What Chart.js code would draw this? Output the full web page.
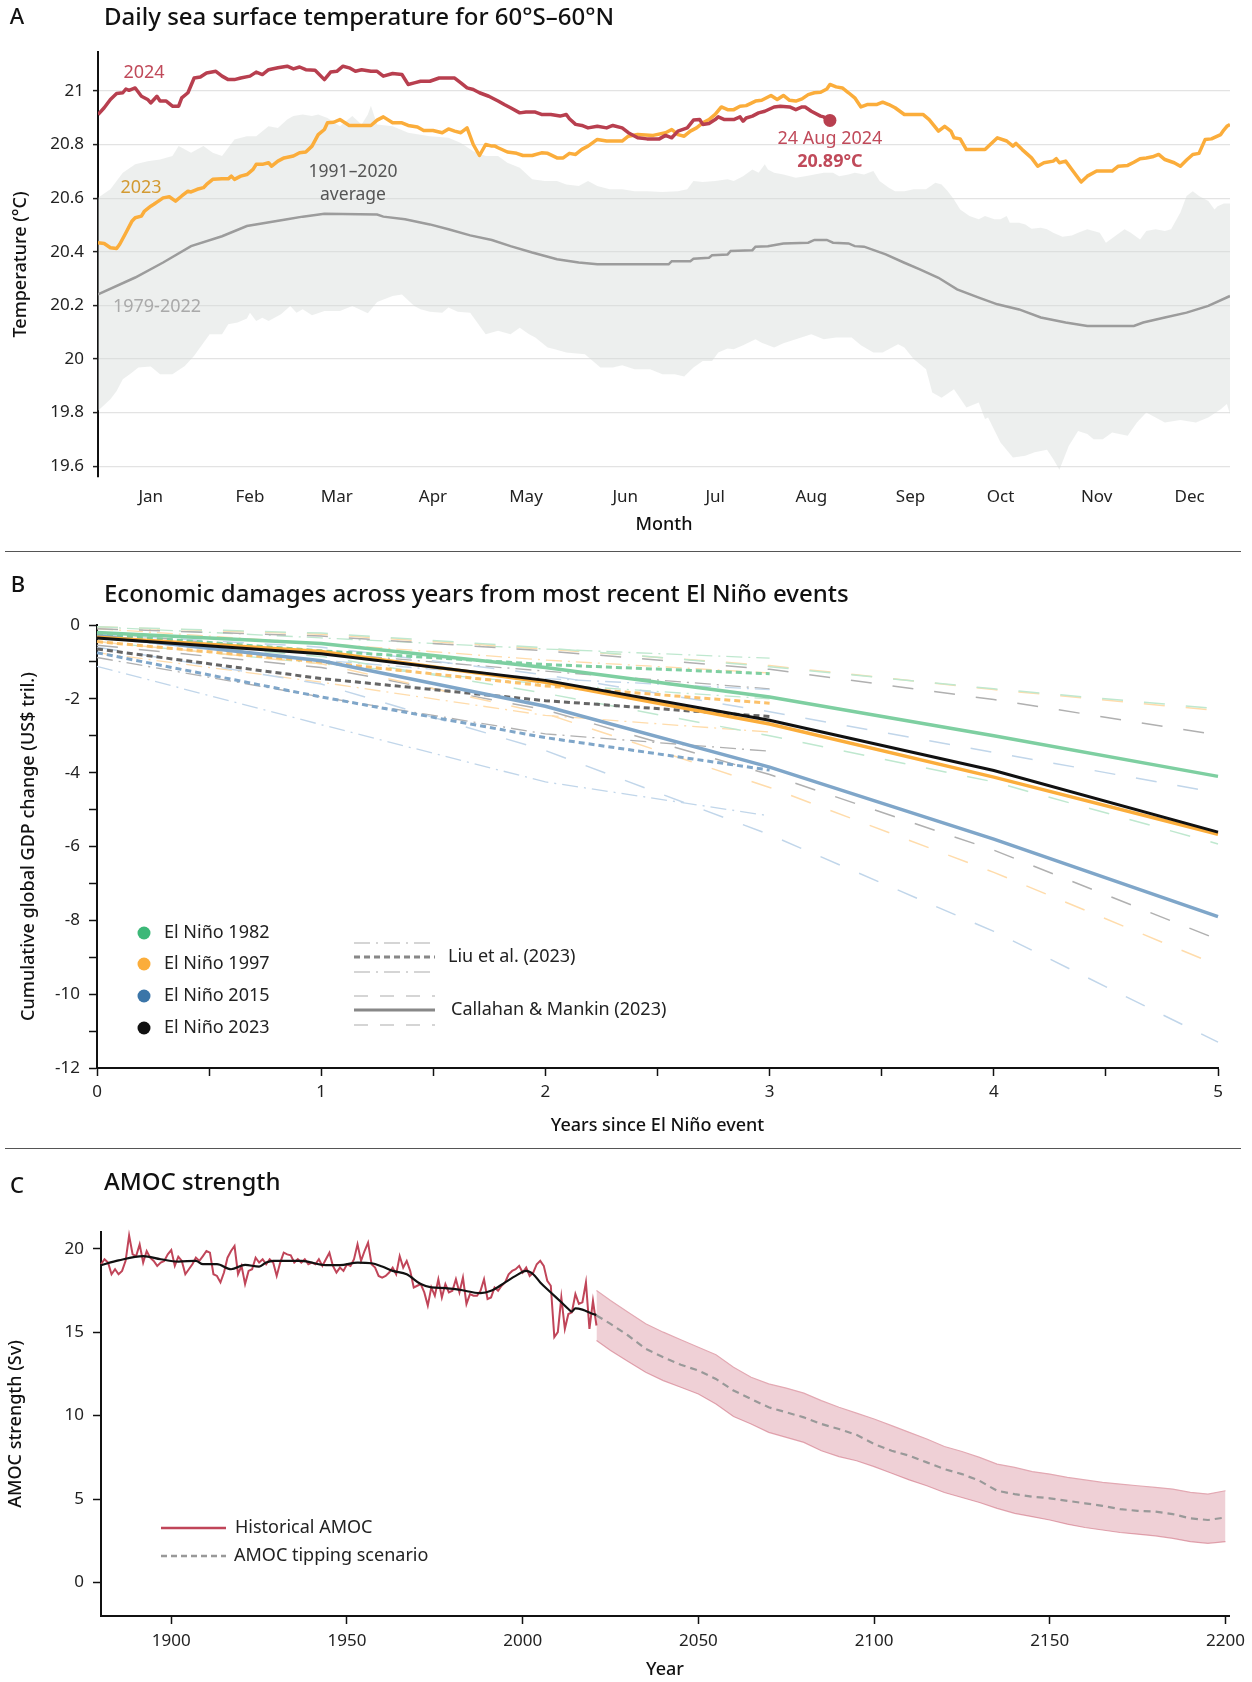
<!DOCTYPE html>
<html>
<head>
<meta charset="utf-8">
<script src="https://cdn.jsdelivr.net/npm/chart.js@4.4.1/dist/chart.umd.min.js"></script>
<style>
html,body{margin:0;padding:0;background:#fff;}
body{width:1252px;height:1682px;position:relative;overflow:hidden;}
canvas{position:absolute;left:0;}
.sep{position:absolute;left:5px;width:1236px;height:0;border-top:1px solid #555;}
</style>
</head>
<body>
<canvas id="cA" width="1252" height="551" style="top:0px"></canvas>
<canvas id="cB" width="1252" height="597" style="top:551px"></canvas>
<canvas id="cC" width="1252" height="534" style="top:1148px"></canvas>
<div class="sep" style="top:551px"></div>
<div class="sep" style="top:1148px"></div>
<script>
// ---------------- Panel A data ----------------
const monthLabels = ['Jan','Feb','Mar','Apr','May','Jun','Jul','Aug','Sep','Oct','Nov','Dec'];
const monthTickDays = [18,50,78,109,139,171,200,231,263,292,323,353];
const tempTicks = [19.6,19.8,20,20.2,20.4,20.6,20.8,21];

const sst2024Days = [1,3,5,7,9,10,11,13,15,17,18,20,21,23,25,27,28,30,32,34,36,39,41,43,45,47,50,52,54,56,59,62,64,66,68,71,74,76,78,80,82,84,86,89,91,93,96,99,101,103,105,108,111,113,116,118,120,122,124,127,130,132,134,137,139,142,144,147,150,152,153,155,157,159,162,165,167,170,172,175,178,182,184,186,188,191,193,195,196,198,200,201,203,206,208,209,210,212,214,216,219,221,224,226,228,229,231,234,235,236,237];
const sst2024Values = [20.912,20.937,20.968,20.990,20.993,21.007,21.002,21.011,20.980,20.968,20.955,20.980,20.962,20.962,20.943,20.943,20.974,20.993,21.048,21.052,21.067,21.073,21.055,21.042,21.042,21.048,21.055,21.070,21.061,21.079,21.086,21.092,21.082,21.089,21.079,21.077,21.042,21.070,21.073,21.092,21.086,21.073,21.079,21.073,21.073,21.055,21.065,21.061,21.024,21.030,21.036,21.036,21.048,21.048,21.048,21.030,21.011,21.005,20.993,20.980,20.962,20.949,20.937,20.918,20.921,20.921,20.912,20.912,20.906,20.912,20.896,20.875,20.871,20.862,20.868,20.862,20.871,20.862,20.844,20.825,20.821,20.821,20.834,20.825,20.850,20.862,20.891,20.893,20.875,20.878,20.893,20.903,20.893,20.893,20.903,20.887,20.899,20.906,20.918,20.924,20.940,20.943,20.940,20.930,20.940,20.940,20.924,20.906,20.903,20.893,20.891];

const sst2023Days = [1,3,5,7,8,10,12,13,15,16,18,19,20,22,24,26,28,30,31,33,35,36,38,41,43,44,45,47,49,51,52,54,56,57,59,61,64,66,68,70,72,74,75,77,79,82,84,87,89,91,93,96,99,101,104,106,109,112,114,116,118,120,122,124,126,128,129,130,133,136,138,141,144,146,149,151,153,155,157,159,162,165,167,170,172,175,180,184,186,188,190,192,194,196,198,200,202,204,206,208,210,213,215,218,220,222,224,226,228,230,232,234,236,237,239,241,243,245,247,249,252,254,256,258,261,264,267,269,272,274,276,277,279,281,283,287,291,294,296,297,299,302,304,306,309,310,311,313,315,318,320,323,328,330,333,335,337,339,341,343,345,348,350,352,354,356,358,360,363,364,365,366];
const sst2023Values = [20.434,20.431,20.415,20.412,20.428,20.471,20.515,20.527,20.533,20.552,20.570,20.577,20.585,20.601,20.605,20.589,20.608,20.626,20.623,20.633,20.639,20.651,20.670,20.672,20.672,20.682,20.670,20.682,20.688,20.707,20.726,20.726,20.732,20.719,20.738,20.750,20.757,20.769,20.772,20.794,20.837,20.856,20.881,20.883,20.893,20.871,20.871,20.871,20.871,20.891,20.903,20.881,20.881,20.871,20.865,20.852,20.852,20.844,20.858,20.850,20.844,20.862,20.800,20.759,20.800,20.794,20.794,20.788,20.772,20.767,20.759,20.759,20.769,20.767,20.750,20.750,20.767,20.763,20.782,20.794,20.819,20.813,20.813,20.813,20.831,20.837,20.834,20.844,20.856,20.837,20.831,20.850,20.862,20.881,20.893,20.912,20.940,20.930,20.930,20.943,20.945,20.962,20.965,20.983,20.968,20.983,20.965,20.962,20.970,20.986,20.993,20.995,21.007,21.024,21.015,21.011,20.993,20.974,20.940,20.949,20.949,20.958,20.949,20.937,20.912,20.912,20.912,20.893,20.850,20.868,20.850,20.825,20.821,20.781,20.781,20.781,20.825,20.813,20.794,20.804,20.781,20.750,20.719,20.732,20.738,20.747,20.732,20.738,20.707,20.660,20.682,20.701,20.701,20.719,20.722,20.734,20.747,20.750,20.754,20.763,20.744,20.732,20.719,20.742,20.763,20.767,20.819,20.821,20.837,20.854,20.868,20.875];

const avgDays = [1,13,22,31,41,49,62,67,74,91,93,100,108,114,121,128,134,141,149,156,162,176,185,186,192,193,198,199,204,205,212,213,217,222,230,232,236,238,243,245,248,255,261,266,272,278,285,291,298,305,313,320,335,338,345,352,359,366];
const avgValues = [20.241,20.304,20.36,20.421,20.458,20.496,20.521,20.531,20.542,20.539,20.531,20.521,20.502,20.484,20.461,20.444,20.421,20.397,20.372,20.360,20.353,20.353,20.353,20.365,20.365,20.374,20.378,20.387,20.390,20.403,20.406,20.419,20.421,20.431,20.434,20.444,20.444,20.434,20.431,20.421,20.419,20.390,20.359,20.334,20.303,20.26,20.229,20.204,20.185,20.155,20.136,20.123,20.123,20.136,20.155,20.173,20.198,20.235];

const rangeMaxDays = [1,5,9,13,17,21,25,27,31,35,38,41,45,49,52,56,59,62,64,67,70,72,75,79,83,86,88,89,91,96,101,108,114,118,122,126,130,133,137,141,145,149,152,156,159,162,166,170,174,178,183,188,191,193,196,200,204,206,209,212,214,216,217,219,222,226,229,232,235,238,240,243,245,248,251,253,256,258,261,264,268,271,273,275,277,279,282,285,287,290,292,294,295,298,300,302,305,307,309,312,315,317,320,324,326,329,332,334,337,339,342,345,347,350,352,354,356,359,361,362,364,366];
const rangeMaxValues = [20.601,20.633,20.695,20.726,20.738,20.744,20.757,20.794,20.769,20.794,20.769,20.757,20.819,20.831,20.831,20.868,20.862,20.893,20.906,20.912,20.906,20.912,20.899,20.868,20.906,20.875,20.912,20.945,20.875,20.868,20.844,20.831,20.825,20.806,20.775,20.757,20.757,20.732,20.713,20.670,20.664,20.664,20.651,20.645,20.664,20.645,20.633,20.633,20.626,20.626,20.623,20.626,20.633,20.664,20.660,20.664,20.670,20.664,20.682,20.707,20.695,20.726,20.707,20.695,20.688,20.676,20.682,20.688,20.695,20.695,20.682,20.688,20.695,20.688,20.701,20.664,20.639,20.626,20.626,20.633,20.633,20.657,20.651,20.626,20.595,20.558,20.533,20.521,20.533,20.521,20.521,20.533,20.508,20.508,20.502,20.486,20.490,20.484,20.471,20.456,20.461,20.471,20.484,20.471,20.434,20.459,20.484,20.471,20.446,20.477,20.484,20.477,20.484,20.546,20.608,20.626,20.608,20.589,20.558,20.570,20.580,20.580];

const rangeMinDays = [1,5,7,9,12,14,18,21,25,29,32,37,41,43,46,49,50,52,54,56,60,63,65,67,70,74,79,83,88,91,96,99,103,105,108,112,114,117,121,126,130,134,137,140,142,146,148,152,158,163,167,170,174,179,183,187,190,193,196,199,201,204,206,209,213,215,219,222,226,231,235,239,244,247,251,254,257,259,261,264,268,270,273,277,281,285,287,288,292,296,300,303,307,309,311,314,317,320,322,325,328,333,336,339,342,345,350,355,359,363,365,366];
const rangeMinValues = [19.807,19.850,19.881,19.925,19.950,19.968,19.972,19.943,19.943,19.974,20.012,20.092,20.092,20.130,20.136,20.151,20.173,20.142,20.154,20.142,20.167,20.198,20.173,20.186,20.163,20.179,20.179,20.198,20.171,20.213,20.235,20.241,20.198,20.186,20.176,20.173,20.192,20.176,20.173,20.092,20.105,20.092,20.117,20.092,20.080,20.043,20.037,20.024,20.018,19.968,19.968,19.977,19.962,19.962,19.943,19.943,19.935,19.968,19.993,19.993,20.024,20.039,20.036,20.051,20.074,20.061,20.043,20.059,20.074,20.092,20.074,20.080,20.080,20.051,20.024,20.024,20.043,20.055,20.043,20.0,19.962,19.875,19.856,19.887,19.819,19.838,19.776,19.782,19.689,19.633,19.639,19.652,19.662,19.627,19.587,19.676,19.732,19.720,19.701,19.701,19.726,19.714,19.763,19.801,19.782,19.763,19.773,19.763,19.782,19.813,19.832,19.794];

const latestDay = [237];
const latestValue = [20.89];

// ---------------- Panel B data ----------------
const bYears = [0,1,2,3,4,5];
const liuYears = [0,1,2,3];
const bTicksX = [0,0.5,1,1.5,2,2.5,3,3.5,4,4.5,5];
const bTicksY = [-12,-11,-10,-9,-8,-7,-6,-5,-4,-3,-2,-1,0];
const ninoLabels = ['El Niño 1982','El Niño 1997','El Niño 2015','El Niño 2023'];

const cm1982 = [-0.2,-0.5,-1.15,-1.95,-3.0,-4.1];
const cm1997 = [-0.33,-0.72,-1.55,-2.68,-4.12,-5.67];
const cm2015 = [-0.29,-0.97,-2.2,-3.85,-5.8,-7.9];
const cm2023 = [-0.35,-0.78,-1.5,-2.58,-3.94,-5.61];
const cmHi1982 = [-0.05,-0.22,-0.62,-1.13,-1.73,-2.27];
const cmHi1997 = [-0.05,-0.25,-0.65,-1.1,-1.75,-2.32];
const cmHi2015 = [-0.25,-0.6,-1.35,-2.35,-3.45,-4.55];
const cmHi2023 = [-0.1,-0.3,-0.7,-1.2,-2.02,-2.98];
const cmLo1982 = [-0.35,-0.85,-1.85,-3.0,-4.25,-5.93];
const cmLo1997 = [-0.45,-1.05,-2.4,-4.4,-6.7,-9.22];
const cmLo2015 = [-0.6,-1.6,-3.4,-5.68,-8.3,-11.3];
const cmLo2023 = [-0.55,-1.15,-2.3,-4.05,-6.1,-8.52];

const liu1982 = [-0.25,-0.7,-1.07,-1.32];
const liu1997 = [-0.45,-1.0,-1.65,-2.12];
const liu2015 = [-0.75,-1.95,-3.05,-3.93];
const liu2023 = [-0.65,-1.45,-2.05,-2.48];
const liuHi1982 = [-0.05,-0.35,-0.65,-0.9];
const liuHi1997 = [-0.1,-0.5,-0.95,-1.3];
const liuHi2015 = [-0.35,-0.95,-1.45,-1.75];
const liuHi2023 = [-0.2,-0.75,-1.25,-1.73];
const liuLo1982 = [-0.45,-1.05,-1.6,-2.0];
const liuLo1997 = [-0.75,-1.55,-2.45,-2.9];
const liuLo2015 = [-1.12,-2.7,-4.25,-5.17];
const liuLo2023 = [-0.88,-1.95,-2.95,-3.42];

// ---------------- Panel C data ----------------
const amocStartYear = 1880;
const amocHistorical = [19.07,19.37,19.17,18.47,18.77,18.47,18.67,19.27,20.79,19.66,19.56,20.26,19.17,19.86,19.46,19.27,18.97,19.17,19.27,19.66,
19.92,18.97,19.52,19.27,18.47,18.77,19.07,19.46,19.27,19.56,19.86,19.76,18.47,18.37,17.98,18.57,19.46,19.86,20.16,18.47,
18.97,17.88,18.67,18.77,19.46,19.17,19.37,19.07,19.37,19.17,18.37,19.17,19.76,19.66,19.60,19.17,19.37,19.17,19.37,19.07,
19.17,19.07,19.37,18.97,19.37,19.76,18.97,18.57,18.87,18.67,19.07,18.97,19.37,20.26,19.27,19.86,20.36,19.07,18.87,18.37,
18.27,18.37,18.57,18.87,18.47,19.56,18.87,19.27,18.67,17.68,17.78,17.88,17.38,16.59,17.68,17.18,18.17,17.08,17.88,17.38,
17.48,18.17,17.38,18.27,16.69,17.28,17.18,17.18,17.48,18.17,16.98,17.08,17.68,17.48,17.78,17.98,18.47,18.67,18.77,18.97,
18.57,18.87,18.37,18.57,19.07,19.27,18.97,18.08,17.78,14.70,15.00,17.08,15.20,16.09,16.19,17.28,16.69,16.79,17.98,15.20,
16.88,15.40];
const amocSmoothYears = [1880,1885,1892,1897,1902,1907,1909,1913,1917,1921,1925,1927,1929,1937,1944,1948,1953,1957,1960,1963,1967,1971,1974,1978,1982,1988,1991,1995,1998,2001,2003,2005,2008,2011,2013,2014,2015,2017,2020,2021];
const amocSmoothValues = [19.01,19.3,19.56,19.37,19.23,19.27,19.07,19.07,18.77,19.03,18.93,19.17,19.27,19.27,19.01,19.01,19.17,19.13,18.93,18.67,18.47,17.88,17.68,17.64,17.54,17.34,17.48,17.98,18.37,18.67,18.47,17.98,17.38,16.79,16.39,16.23,16.43,16.35,16.09,16.03];
const scenarioYears = [2021,2025,2030,2035,2040,2045,2050,2055,2060,2065,2070,2075,2080,2085,2090,2095,2100,2105,2110,2115,2120,2125,2130,2135,2140,2145,2150,2155,2160,2165,2170,2175,2180,2185,2190,2195,2200];
const scenarioMid = [16.0,15.5,14.8,14.0,13.5,13.05,12.7,12.2,11.5,11.0,10.5,10.2,9.9,9.5,9.2,8.85,8.3,7.9,7.6,7.2,6.8,6.5,6.1,5.5,5.3,5.15,5.05,4.9,4.75,4.6,4.4,4.3,4.25,4.1,3.85,3.75,3.9];
const scenarioHigh = [17.5,16.9,16.2,15.5,15.0,14.55,14.1,13.65,12.9,12.3,11.9,11.65,11.35,10.9,10.5,10.15,9.8,9.4,9.0,8.6,8.15,7.85,7.5,7.1,6.9,6.65,6.5,6.3,6.15,6.0,5.9,5.8,5.7,5.6,5.4,5.3,5.5];
const scenarioLow = [14.5,13.9,13.25,12.6,12.1,11.7,11.3,10.7,9.95,9.5,9.0,8.7,8.4,7.9,7.55,7.3,6.95,6.55,6.15,5.8,5.4,5.1,4.8,4.45,4.15,3.95,3.75,3.5,3.3,3.15,3.0,2.9,2.8,2.65,2.45,2.35,2.45];
const amocTicksX = [1900,1950,2000,2050,2100,2150,2200];
const amocTicksY = [0,5,10,15,20];

// ---------------- helpers ----------------
const FONT = "'Noto Sans', Roboto, sans-serif";
Chart.defaults.font.family = FONT;
Chart.defaults.color = '#222';
const TICK = { size: 17 };
const AXT = { size: 18, weight: '500' };
function pts(xs, ys) { return xs.map((x, i) => ({ x: x, y: ys[i] })); }
function fixedTicks(list) { return function (axis) { axis.ticks = list.map(v => ({ value: v })); }; }
function txt(ctx, s, x, y, o) {
  o = o || {};
  ctx.save();
  ctx.font = (o.weight || 400) + ' ' + (o.size || 18) + 'px ' + FONT;
  ctx.fillStyle = o.color || '#222';
  ctx.textAlign = o.align || 'left';
  ctx.textBaseline = 'middle';
  ctx.fillText(s, x, y);
  ctx.restore();
}
const baseOpts = { responsive: false, maintainAspectRatio: false, animation: false, devicePixelRatio: 1,
  plugins: { legend: { display: false }, tooltip: { enabled: false } }, events: [] };

// ---------------- Panel A ----------------
const RED = '#b83f4f', ORANGE = '#fbad3b';
new Chart(document.getElementById('cA'), {
  type: 'line',
  data: { datasets: [
    { data: pts(latestDay, latestValue), showLine: false, pointRadius: 6.5, pointBackgroundColor: RED, pointBorderWidth: 0, order: 0 },
    { data: pts(sst2024Days, sst2024Values), borderColor: RED, borderWidth: 3.5, pointRadius: 0, order: 1, borderJoinStyle: 'round' },
    { data: pts(sst2023Days, sst2023Values), borderColor: ORANGE, borderWidth: 3.5, pointRadius: 0, order: 2, borderJoinStyle: 'round' },
    { data: pts(avgDays, avgValues), borderColor: '#9c9c9c', borderWidth: 2.5, pointRadius: 0, order: 3 },
    { data: pts(rangeMaxDays, rangeMaxValues), borderWidth: 0, borderColor: 'rgba(0,0,0,0)', pointRadius: 0, fill: { target: 5 }, backgroundColor: 'rgba(212,218,215,0.42)', order: 4 },
    { data: pts(rangeMinDays, rangeMinValues), borderWidth: 0, borderColor: 'rgba(0,0,0,0)', pointRadius: 0, fill: false, order: 5 }
  ]},
  options: Object.assign({}, baseOpts, {
    layout: { padding: { left: 0, top: 52, right: 22, bottom: 0 } },
    scales: {
      x: { type: 'linear', min: 1, max: 366,
        afterBuildTicks: fixedTicks(monthTickDays), afterFit: s => { s.height = 74; },
        ticks: { callback: (v, i) => monthLabels[i], padding: 10, font: TICK, color: '#222', maxRotation: 0, autoSkip: false },
        grid: { display: false, drawTicks: false }, border: { display: false },
        title: { display: true, text: 'Month', font: AXT, color: '#111', padding: { bottom: 15, top: 0 } } },
      y: { type: 'linear', min: 19.56, max: 21.145,
        afterBuildTicks: fixedTicks(tempTicks), afterFit: s => { s.width = 98; },
        ticks: { callback: v => String(parseFloat(v.toFixed(1))), padding: 9, font: TICK, color: '#222' },
        grid: { color: '#e3e3e3', lineWidth: 1.2, drawTicks: true, tickLength: 5, tickColor: '#222', tickWidth: 1.5 },
        border: { display: true, color: '#111', width: 2 },
        title: { display: true, text: 'Temperature (°C)', font: AXT, color: '#111', padding: { top: 10, bottom: 0 } } }
    }
  }),
  plugins: [{ id: 'textA', afterDraw(chart) {
    const c = chart.ctx, xs = chart.scales.x, ys = chart.scales.y;
    txt(c, 'A', 17, 18, { size: 22, weight: 500, align: 'center', color: '#111' });
    txt(c, 'Daily sea surface temperature for 60°S–60°N', 104, 18, { size: 24, weight: 500, color: '#111' });
    txt(c, '2024', 144, 73, { color: '#c04a5a', align: 'center' });
    txt(c, '2023', 141, 188, { color: '#d39a32', align: 'center' });
    txt(c, '1991–2020', 353, 172, { color: '#555', align: 'center', size: 17.5 });
    txt(c, 'average', 353, 195, { color: '#555', align: 'center', size: 17.5 });
    txt(c, '1979-2022', 157, 307, { color: '#aaa', align: 'center' });
    const dx = xs.getPixelForValue(latestDay[0]), dy = ys.getPixelForValue(latestValue[0]);
    txt(c, '24 Aug 2024', dx, dy + 18, { color: '#c04a5a', align: 'center' });
    txt(c, '20.89°C', dx, dy + 41, { color: '#c04a5a', align: 'center', weight: 700 });
  } }]
});

// ---------------- Panel B ----------------
const G = '#7ecfa1', GL = '#bfe8cf', O = '#fbad3b', OL = '#ffdcab', B = '#7fa6c9', BL = '#c1d6ea', K = '#111', KD = '#666', KL = '#b0b0b0';
const DASH = [21, 21], DASHDOT = [16, 6, 2, 6], DOT = [6, 4];
function ln(xs, ys, color, width, dash, order) {
  return { data: pts(xs, ys), borderColor: color, borderWidth: width, borderDash: dash || [], pointRadius: 0, order: order, clip: false, fill: false };
}
new Chart(document.getElementById('cB'), {
  type: 'line',
  data: { datasets: [
    ln(bYears, cm2023, K, 3, null, 0),
    ln(bYears, cm1997, O, 3.5, null, 1),
    ln(bYears, cm1982, G, 3.5, null, 2),
    ln(bYears, cm2015, B, 3.5, null, 3),
    ln(liuYears, liu2023, KD, 3, DOT, 4),
    ln(liuYears, liu1997, '#fcc16a', 3, DOT, 5),
    ln(liuYears, liu1982, G, 3, DOT, 6),
    ln(liuYears, liu2015, B, 3, DOT, 7),
    ln(bYears, cmHi1982, GL, 1.5, DASH, 8),
    ln(bYears, cmLo1982, GL, 1.5, DASH, 9),
    ln(bYears, cmHi1997, OL, 1.5, DASH, 10),
    ln(bYears, cmLo1997, OL, 1.5, DASH, 11),
    ln(bYears, cmHi2015, BL, 1.5, DASH, 12),
    ln(bYears, cmLo2015, BL, 1.5, DASH, 13),
    ln(bYears, cmHi2023, KL, 1.5, DASH, 14),
    ln(bYears, cmLo2023, KL, 1.5, DASH, 15),
    ln(liuYears, liuHi1982, GL, 1.3, DASHDOT, 16),
    ln(liuYears, liuLo1982, GL, 1.3, DASHDOT, 17),
    ln(liuYears, liuHi1997, OL, 1.3, DASHDOT, 18),
    ln(liuYears, liuLo1997, OL, 1.3, DASHDOT, 19),
    ln(liuYears, liuHi2015, BL, 1.3, DASHDOT, 20),
    ln(liuYears, liuLo2015, BL, 1.3, DASHDOT, 21),
    ln(liuYears, liuHi2023, KL, 1.3, DASHDOT, 22),
    ln(liuYears, liuLo2023, KL, 1.3, DASHDOT, 23)
  ]},
  options: Object.assign({}, baseOpts, {
    layout: { padding: { left: 0, top: 74, right: 34, bottom: 0 } },
    scales: {
      x: { type: 'linear', min: 0, max: 5,
        afterBuildTicks: fixedTicks(bTicksX), afterFit: s => { s.height = 80; },
        ticks: { callback: v => (Number.isInteger(v) ? String(v) : ''), padding: 6, font: TICK, color: '#222', maxRotation: 0, autoSkip: false },
        grid: { drawOnChartArea: false, drawTicks: true, tickLength: 8, tickColor: '#111', tickWidth: 1.5 },
        border: { display: true, color: '#111', width: 2 },
        title: { display: true, text: 'Years since El Niño event', font: AXT, color: '#111', padding: { bottom: 11, top: 0 } } },
      y: { type: 'linear', min: -12, max: 0,
        afterBuildTicks: fixedTicks(bTicksY), afterFit: s => { s.width = 97; },
        ticks: { callback: v => (v % 2 === 0 ? String(v) : ''), padding: 9, font: TICK, color: '#222', autoSkip: false },
        grid: { drawOnChartArea: false, drawTicks: true, tickLength: 8, tickColor: '#111', tickWidth: 1.5 },
        border: { display: true, color: '#111', width: 2 },
        title: { display: true, text: 'Cumulative global GDP change (US$ tril.)', font: AXT, color: '#111', padding: { top: 18, bottom: 0 } } }
    }
  }),
  plugins: [{ id: 'textB', afterDraw(chart) {
    const c = chart.ctx;
    txt(c, 'B', 18, 35, { size: 22, weight: 500, align: 'center', color: '#111' });
    txt(c, 'Economic damages across years from most recent El Niño events', 104, 44, { size: 24, weight: 500, color: '#111' });
    const dotCols = ['#3cb878', '#fbad3b', '#3b75a8', '#111'];
    const rows = [382, 413, 445, 477];
    rows.forEach((y, i) => {
      c.save(); c.beginPath(); c.arc(144, y, 6.5, 0, Math.PI * 2); c.fillStyle = dotCols[i]; c.fill(); c.restore();
      txt(c, ninoLabels[i], 164, y, { color: '#222' });
    });
    function seg(y, color, w, dash) {
      c.save(); c.beginPath(); c.setLineDash(dash); c.strokeStyle = color; c.lineWidth = w;
      c.moveTo(354, y); c.lineTo(435, y); c.stroke(); c.restore();
    }
    seg(392, '#c8c8c8', 1.5, DASHDOT);
    seg(406, '#888', 3, DOT);
    seg(421, '#c8c8c8', 1.5, DASHDOT);
    seg(445, '#c8c8c8', 1.5, [14, 12]);
    seg(459, '#888', 3, []);
    seg(474, '#c8c8c8', 1.5, [14, 12]);
    txt(c, 'Liu et al. (2023)', 448, 406, { color: '#222' });
    txt(c, 'Callahan & Mankin (2023)', 451, 459, { color: '#222' });
  } }]
});

// ---------------- Panel C ----------------
const CRED = '#c04559';
const amocYears = amocHistorical.map((v, i) => amocStartYear + i);
new Chart(document.getElementById('cC'), {
  type: 'line',
  data: { datasets: [
    { data: pts(amocSmoothYears, amocSmoothValues), borderColor: '#111', borderWidth: 2.2, pointRadius: 0, tension: 0.4, cubicInterpolationMode: 'monotone', order: 0, clip: false },
    { data: pts(amocYears, amocHistorical), borderColor: CRED, borderWidth: 2, pointRadius: 0, order: 1, clip: false },
    { data: pts(scenarioYears, scenarioMid), borderColor: '#999', borderWidth: 2.2, borderDash: [7, 5], pointRadius: 0, order: 2 },
    { data: pts(scenarioYears, scenarioHigh), borderColor: '#e3a9b3', borderWidth: 1.2, pointRadius: 0, fill: { target: 4 }, backgroundColor: 'rgba(205,110,128,0.32)', order: 3 },
    { data: pts(scenarioYears, scenarioLow), borderColor: '#e3a9b3', borderWidth: 1.2, pointRadius: 0, fill: false, order: 4 }
  ]},
  options: Object.assign({}, baseOpts, {
    layout: { padding: { left: 0, top: 84, right: 20, bottom: 0 } },
    scales: {
      x: { type: 'linear', min: 1880, max: 2201,
        afterBuildTicks: fixedTicks(amocTicksX), afterFit: s => { s.height = 66; },
        ticks: { callback: v => String(v), padding: 7, font: TICK, color: '#222', maxRotation: 0, autoSkip: false },
        grid: { drawOnChartArea: false, drawTicks: true, tickLength: 8, tickColor: '#111', tickWidth: 1.5 },
        border: { display: true, color: '#111', width: 2 },
        title: { display: true, text: 'Year', font: AXT, color: '#111', padding: { bottom: 1, top: 0 } } },
      y: { type: 'linear', min: -2, max: 21,
        afterBuildTicks: fixedTicks(amocTicksY), afterFit: s => { s.width = 101; },
        ticks: { callback: v => String(v), padding: 9, font: TICK, color: '#222' },
        grid: { drawOnChartArea: false, drawTicks: true, tickLength: 8, tickColor: '#111', tickWidth: 1.5 },
        border: { display: true, color: '#111', width: 2 },
        title: { display: true, text: 'AMOC strength (Sv)', font: AXT, color: '#111', padding: { top: 5, bottom: 0 } } }
    }
  }),
  plugins: [{ id: 'textC', afterDraw(chart) {
    const c = chart.ctx;
    txt(c, 'C', 17, 39, { size: 22, weight: 500, align: 'center', color: '#111' });
    txt(c, 'AMOC strength', 104, 35, { size: 24, weight: 500, color: '#111' });
    c.save(); c.beginPath(); c.strokeStyle = CRED; c.lineWidth = 2.5; c.moveTo(161, 380); c.lineTo(226, 380); c.stroke(); c.restore();
    c.save(); c.beginPath(); c.setLineDash([6, 4]); c.strokeStyle = '#999'; c.lineWidth = 2.5; c.moveTo(161, 408); c.lineTo(226, 408); c.stroke(); c.restore();
    txt(c, 'Historical AMOC', 235, 380, { color: '#222' });
    txt(c, 'AMOC tipping scenario', 234, 408, { color: '#222' });
  } }]
});
</script>
</body>
</html>
